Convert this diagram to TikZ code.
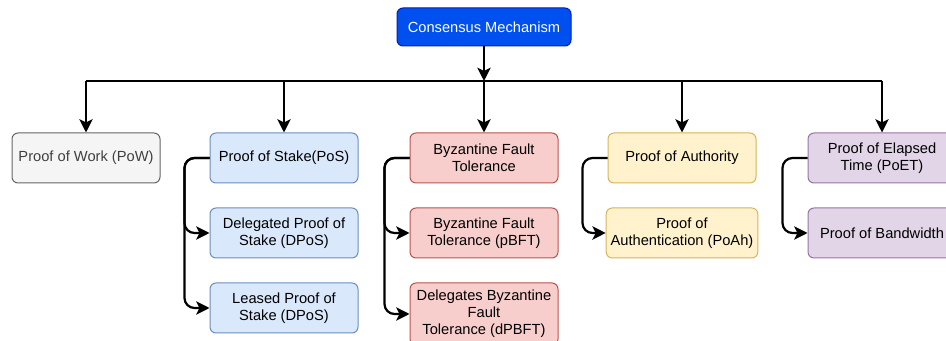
\documentclass[tikz,border=0pt]{standalone}
\usepackage{fontspec}
\setmainfont{Liberation Sans}
\usetikzlibrary{arrows.meta}

\definecolor{topfill}{HTML}{0050EF}
\definecolor{topline}{HTML}{001DBC}
\definecolor{powfill}{HTML}{F5F5F5}
\definecolor{powline}{HTML}{666666}
\definecolor{posfill}{HTML}{DAE8FC}
\definecolor{posline}{HTML}{6C8EBF}
\definecolor{bftfill}{HTML}{F8CECC}
\definecolor{bftline}{HTML}{B85450}
\definecolor{poafill}{HTML}{FFF2CC}
\definecolor{poaline}{HTML}{D6B656}
\definecolor{poetfill}{HTML}{E1D5E7}
\definecolor{poetline}{HTML}{9673A6}

\begin{document}
\begin{tikzpicture}[x=0.75pt, y=-0.75pt, line width=1.65pt,
  box/.style={draw, rounded corners=4.5pt, line width=0.75pt, minimum width=111pt,
    minimum height=37.5pt, align=center, font=\fontsize{11}{12.75}\selectfont},
  arr/.style={-{Stealth[length=10pt, width=10pt, inset=2.5pt]}},
  side/.style={arr, rounded corners=7.5pt}]

\useasboundingbox (0,0) rectangle (946,341);

% top of the tree
\node [box, draw=topline, fill=topfill, text=white, minimum width=130.5pt,
  minimum height=28.5pt] (top) at (484,27) {Consensus Mechanism};
\coordinate (bus) at (484,81);

% first row
\node [box, draw=powline, fill=powfill, text=black!75] (pow) at (86,158) {Proof of Work (PoW)};
\node [box, draw=posline, fill=posfill] (pos) at (284,158) {Proof of Stake(PoS)};
\node [box, draw=bftline, fill=bftfill] (bft) at (484,158) {Byzantine Fault\\Tolerance};
\node [box, draw=poaline, fill=poafill] (poa) at (682,158) {Proof of Authority};
\node [box, draw=poetline, fill=poetfill] (poet) at (882,158) {Proof of Elapsed\\Time (PoET)};

% second and third rows
\node [box, draw=posline, fill=posfill] (dpos) at (284,233) {Delegated Proof of\\Stake (DPoS)};
\node [box, draw=posline, fill=posfill] (lpos) at (284,308) {Leased Proof of\\Stake (DPoS)};
\node [box, draw=bftline, fill=bftfill] (pbft) at (484,233) {Byzantine Fault\\Tolerance (pBFT)};
\node [box, draw=bftline, fill=bftfill, minimum height=46.5pt] (dpbft) at (484,314)
  {Delegates Byzantine\\Fault\\Tolerance (dPBFT)};
\node [box, draw=poaline, fill=poafill] (poah) at (682,233) {Proof of\\Authentication (PoAh)};
\node [box, draw=poetline, fill=poetfill] (pob) at (882,233) {Proof of Bandwidth};

% connectors
\draw[arr] (top) -- (bus);
\draw (pow |- bus) -- (poet |- bus);
\foreach \n in {pow,pos,bft,poa,poet}
  \draw[arr] (\n |- bus) -- (\n);

\draw[side] (pos.west) -- ++(-25,0) |- (dpos.west);
\draw[side] (pos.west) -- ++(-25,0) |- (lpos.west);
\draw[side] (bft.west) -- ++(-25,0) |- (pbft.west);
\draw[side] (bft.west) -- ++(-25,0) |- (dpbft.west);
\draw[side] (poa.west) -- ++(-25,0) |- (poah.west);
\draw[side] (poet.west) -- ++(-25,0) |- (pob.west);

\end{tikzpicture}
\end{document}
